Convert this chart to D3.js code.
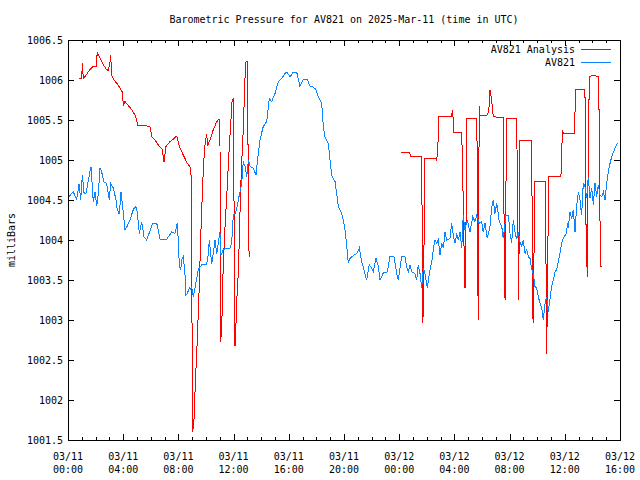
<!DOCTYPE html>
<html><head><meta charset="utf-8">
<script src="https://cdn.jsdelivr.net/npm/d3@7"></script>
<style>
body{margin:0;background:#fff;}
svg{display:block;}
text{font-family:"DejaVu Sans Mono",monospace;font-size:10px;fill:#000;}
</style></head>
<body>
<script>
// ---- data (hours since 2025-03-11 00:00 UTC, pressure in milliBars) ----
const title = "Barometric Pressure for AV821 on 2025-Mar-11 (time in UTC)";
const yLabel = "milliBars";
const seriesNames = ["AV821 Analysis", "AV821"];
const yTicks = [1001.5,1002,1002.5,1003,1003.5,1004,1004.5,1005,1005.5,1006,1006.5];

const obsHours = [0.04,0.38,0.63,0.80,0.92,1.04,1.16,1.30,1.40,1.59,1.67,1.76,1.83,1.96,2.08,2.20,2.32,2.44,2.61,2.80,2.99,3.09,3.28,3.48,3.57,3.72,3.84,3.96,4.13,4.25,4.49,4.73,4.91,5.02,5.17,5.34,5.51,5.70,6.14,6.43,6.67,7.15,7.51,7.75,7.92,7.99,8.07,8.17,8.24,8.36,8.48,8.55,8.64,8.79,8.89,8.96,9.08,9.20,9.44,9.69,10.05,10.17,10.24,10.34,10.41,10.53,10.65,10.78,10.89,11.01,11.09,11.25,11.50,11.74,11.86,11.98,12.10,12.22,12.34,12.46,12.59,12.70,12.83,12.95,13.07,13.19,13.43,13.62,13.79,13.91,14.15,14.40,14.59,14.76,15.00,15.24,15.49,15.72,15.85,16.09,16.33,16.57,16.81,17.05,17.34,17.54,17.78,17.97,18.14,18.38,18.50,18.62,18.86,18.99,19.11,19.35,19.47,19.59,19.83,19.95,20.07,20.20,20.31,20.43,20.63,20.92,21.11,21.28,21.45,21.64,21.83,22.01,22.12,22.32,22.49,22.61,22.85,23.14,23.33,23.62,23.82,23.93,24.18,24.42,24.54,24.66,24.78,24.91,25.14,25.27,25.38,25.51,25.63,25.75,25.87,26.04,26.18,26.36,26.47,26.59,26.72,26.83,26.96,27.08,27.20,27.32,27.44,27.68,27.80,27.92,28.04,28.17,28.28,28.41,28.53,28.64,28.77,28.93,29.13,29.33,29.49,29.62,29.80,29.98,30.09,30.22,30.38,30.58,30.70,30.82,30.94,31.07,31.25,31.43,31.54,31.74,31.91,32.03,32.15,32.27,32.39,32.51,32.63,32.75,32.88,32.99,33.12,33.24,33.36,33.48,33.60,33.72,33.84,33.96,34.08,34.20,34.33,34.44,34.57,34.69,34.80,34.93,35.05,35.17,35.29,35.41,35.60,35.78,35.89,36.09,36.21,36.25,36.38,36.50,36.62,36.74,36.86,36.98,37.10,37.22,37.34,37.46,37.59,37.70,37.83,37.95,38.07,38.19,38.31,38.43,38.55,38.67,38.80,38.91,39.04,39.15,39.28,39.40,39.64,39.81];
const obsValues = [1004.54,1004.60,1004.51,1004.70,1004.50,1004.81,1004.59,1004.58,1004.67,1004.86,1004.91,1004.67,1004.48,1004.60,1004.42,1004.58,1004.90,1004.85,1004.72,1004.71,1004.50,1004.71,1004.65,1004.50,1004.38,1004.32,1004.60,1004.42,1004.13,1004.16,1004.25,1004.38,1004.42,1004.35,1004.08,1004.23,1004.04,1004.00,1004.21,1004.21,1004.01,1004.01,1004.10,1004.08,1004.21,1004.00,1003.67,1003.63,1003.75,1003.79,1003.56,1003.31,1003.33,1003.40,1003.38,1003.42,1003.29,1003.40,1003.63,1003.69,1003.70,1003.83,1004.00,1003.83,1003.70,1003.83,1004.00,1003.83,1003.96,1004.10,1003.81,1003.88,1003.90,1003.90,1003.96,1004.31,1004.33,1004.38,1004.50,1004.60,1004.71,1004.98,1004.92,1004.79,1005.00,1004.92,1004.90,1004.81,1005.08,1005.25,1005.42,1005.48,1005.77,1005.73,1005.83,1005.98,1006.02,1006.08,1006.10,1006.04,1006.10,1006.10,1005.92,1006.01,1006.01,1005.92,1005.91,1005.88,1005.79,1005.71,1005.42,1005.29,1005.21,1005.00,1004.81,1004.73,1004.58,1004.42,1004.33,1004.25,1004.13,1003.92,1003.71,1003.77,1003.80,1003.83,1003.90,1003.73,1003.63,1003.50,1003.69,1003.65,1003.60,1003.77,1003.67,1003.50,1003.59,1003.60,1003.79,1003.79,1003.58,1003.50,1003.79,1003.79,1003.67,1003.60,1003.69,1003.60,1003.58,1003.50,1003.69,1003.58,1003.40,1003.65,1003.58,1003.40,1003.58,1003.73,1003.88,1004.00,1003.96,1004.00,1003.81,1003.96,1003.90,1004.10,1004.00,1004.02,1004.21,1004.06,1003.96,1004.08,1004.00,1004.10,1003.90,1004.31,1004.13,1004.25,1004.10,1004.29,1004.23,1004.31,1004.21,1004.23,1004.10,1004.21,1004.02,1004.17,1004.40,1004.50,1004.33,1004.46,1004.23,1004.17,1004.02,1004.31,1004.31,1004.08,1003.96,1004.25,1004.10,1004.01,1004.10,1003.98,1003.92,1004.00,1003.83,1003.88,1003.79,1003.77,1003.63,1003.58,1003.42,1003.40,1003.29,1003.21,1003.15,1003.00,1003.21,1003.29,1003.10,1003.27,1003.42,1003.50,1003.60,1003.63,1003.79,1003.96,1004.02,1004.08,1004.21,1004.15,1004.35,1004.27,1004.38,1004.10,1004.42,1004.60,1004.50,1004.31,1004.71,1004.67,1004.52,1004.79,1004.52,1004.65,1004.44,1004.71,1004.54,1004.69,1004.56,1004.54,1004.60,1004.50,1004.71,1004.85,1004.96,1005.04,1005.15,1005.21];

const anaHours = [0.82,0.99,1.04,1.11,1.30,1.59,1.83,2.03,2.12,2.32,2.56,2.80,2.92,3.04,3.09,3.17,3.33,3.53,3.77,3.93,4.01,4.13,4.37,4.62,4.86,4.98,5.05,5.46,5.94,6.07,6.30,6.54,6.83,6.96,7.10,7.39,7.63,7.88,8.07,8.36,8.64,8.91,9.04,9.13,9.20,9.28,9.37,9.44,9.51,9.62,9.69,9.76,9.86,9.93,10.05,10.12,10.29,10.53,10.78,10.94,11.01,11.05,11.14,11.21,11.30,11.38,11.50,11.69,11.81,11.86,11.93,11.98,12.10,12.15,12.22,12.34,12.41,12.51,12.59,12.70,12.83,12.90,12.99,13.07,13.12,
  18.5,
  24.13,24.73,24.83,25.63,25.67,25.72,25.80,25.87,26.67,26.72,26.83,26.88,27.80,27.85,27.92,27.97,28.53,28.60,28.70,28.77,28.84,28.89,29.62,29.66,29.69,29.73,29.76,29.80,29.86,30.34,30.49,30.58,30.70,30.82,31.54,31.59,31.67,31.72,31.79,32.51,32.59,32.66,32.70,32.75,33.60,33.64,33.70,33.77,33.82,34.57,34.64,34.69,34.76,34.83,35.72,35.78,35.82,35.89,36.67,36.74,36.81,37.46,37.54,37.63,37.70,37.78,38.07,38.43,38.50,38.55,38.62,38.72];
const anaValues = [1006.02,1006.02,1006.21,1006.02,1006.06,1006.13,1006.17,1006.17,1006.34,1006.27,1006.19,1006.13,1006.12,1006.22,1006.31,1006.06,1006.00,1005.96,1005.90,1005.85,1005.69,1005.73,1005.68,1005.63,1005.56,1005.50,1005.43,1005.43,1005.42,1005.29,1005.25,1005.19,1005.13,1004.97,1005.17,1005.23,1005.26,1005.30,1005.17,1005.06,1004.96,1004.90,1001.60,1001.75,1002.08,1002.42,1002.75,1003.08,1003.42,1004.04,1004.38,1004.71,1005.04,1005.19,1005.33,1005.18,1005.25,1005.38,1005.48,1005.51,1005.50,1002.73,1002.88,1003.46,1003.88,1004.17,1004.54,1005.17,1005.50,1005.71,1005.75,1005.78,1002.67,1002.83,1003.21,1003.58,1004.00,1004.63,1004.98,1005.38,1006.04,1006.23,1006.23,1004.71,1003.79,
  null,
  1005.10,1005.10,1005.05,1005.05,1004.00,1002.96,1003.96,1005.02,1005.02,1004.99,1005.27,1005.55,1005.55,1005.62,1005.50,1005.35,1005.35,1004.85,1003.90,1003.40,1004.17,1005.52,1005.52,1004.90,1003.63,1003.00,1004.42,1005.67,1005.56,1005.56,1005.60,1005.88,1005.75,1005.54,1005.53,1004.40,1003.25,1004.42,1005.52,1005.52,1004.38,1003.25,1004.25,1005.25,1005.25,1004.10,1002.96,1003.85,1004.73,1004.73,1003.67,1002.58,1003.67,1004.79,1004.79,1005.08,1005.38,1005.33,1005.33,1005.60,1005.88,1005.88,1004.13,1003.54,1005.15,1006.04,1006.06,1006.04,1005.46,1004.25,1003.67,1003.67];

const startMs = Date.UTC(2025, 2, 11, 0, 0);
const endMs = Date.UTC(2025, 2, 12, 16, 0);
const colors = {analysis: "#ff0000", obs: "#0a84ff"};

// ---- layout ----
const W = 640, H = 480;
const L = 68, R = 620, T = 40, B = 440;

const svg = d3.select("body").append("svg").attr("width", W).attr("height", H);
svg.append("rect").attr("width", W).attr("height", H).attr("fill", "#fff");

const x = d3.scaleUtc().domain([new Date(startMs), new Date(endMs)]).range([L, R]);
const y = d3.scaleLinear().domain([1001.5, 1006.5]).range([B, T]);

const toDate = h => new Date(startMs + h * 3600e3);
const obs = obsHours.map((h, i) => ({t: toDate(h), v: obsValues[i]}));
const ana = anaHours.map((h, i) => ({t: toDate(h), v: anaValues[i]}));

// axes (gnuplot style: ticks inward, mirrored)
const majorX = x.ticks(d3.utcHour.every(4));
const minorX = x.ticks(d3.utcHour.every(1));
const g = svg.append("g").attr("shape-rendering", "crispEdges").attr("stroke", "#000").attr("stroke-width", 1);
const MAJ = 6, MIN = 3;
minorX.forEach(d => {
  const px = Math.round(x(d)) + 0.5;
  g.append("line").attr("x1", px).attr("x2", px).attr("y1", B).attr("y2", B - MIN);
  g.append("line").attr("x1", px).attr("x2", px).attr("y1", T).attr("y2", T + MIN);
});
majorX.forEach(d => {
  const px = Math.round(x(d)) + 0.5;
  g.append("line").attr("x1", px).attr("x2", px).attr("y1", B).attr("y2", B - MAJ);
  g.append("line").attr("x1", px).attr("x2", px).attr("y1", T).attr("y2", T + MAJ);
});
yTicks.forEach(v => {
  const py = Math.round(y(v)) + 0.5;
  g.append("line").attr("x1", L).attr("x2", L + MAJ).attr("y1", py).attr("y2", py);
  g.append("line").attr("x1", R).attr("x2", R - MAJ).attr("y1", py).attr("y2", py);
});

// data lines (aliased, like the gnuplot png)
const line = d3.line().defined(d => d.v != null).x(d => x(d.t)).y(d => y(d.v));
svg.append("path").datum(ana).attr("d", line).attr("fill", "none")
  .attr("stroke", colors.analysis).attr("stroke-width", 1).attr("shape-rendering", "crispEdges");
svg.append("path").datum(obs).attr("d", line).attr("fill", "none")
  .attr("stroke", colors.obs).attr("stroke-width", 1).attr("shape-rendering", "crispEdges");

// frame
svg.append("rect").attr("x", L + 0.5).attr("y", T + 0.5).attr("width", R - L).attr("height", B - T)
  .attr("fill", "none").attr("stroke", "#000").attr("shape-rendering", "crispEdges");

// tick labels
const fmtD = d3.utcFormat("%m/%d"), fmtT = d3.utcFormat("%H:%M");
majorX.forEach(d => {
  const t = svg.append("text").attr("x", x(d)).attr("text-anchor", "middle");
  t.append("tspan").attr("x", x(d)).attr("y", 460).text(fmtD(d));
  t.append("tspan").attr("x", x(d)).attr("y", 473).text(fmtT(d));
});
yTicks.forEach(v => {
  svg.append("text").attr("x", 63).attr("y", y(v) + 4).attr("text-anchor", "end").text(String(v));
});

// title & axis label
svg.append("text").attr("x", (L + R) / 2).attr("y", 23).attr("text-anchor", "middle").text(title);
svg.append("text").attr("transform", `translate(15,${(T + B) / 2}) rotate(-90)`)
  .attr("text-anchor", "middle").text(yLabel);

// legend
const leg = [{name: seriesNames[0], c: colors.analysis}, {name: seriesNames[1], c: colors.obs}];
leg.forEach((d, i) => {
  const ly = 49 + i * 13;
  svg.append("text").attr("x", 575).attr("y", ly + 4).attr("text-anchor", "end").text(d.name);
  svg.append("line").attr("x1", 581).attr("x2", 611).attr("y1", ly + 0.5).attr("y2", ly + 0.5)
    .attr("stroke", d.c).attr("stroke-width", 1).attr("shape-rendering", "crispEdges");
});
</script>
</body></html>
